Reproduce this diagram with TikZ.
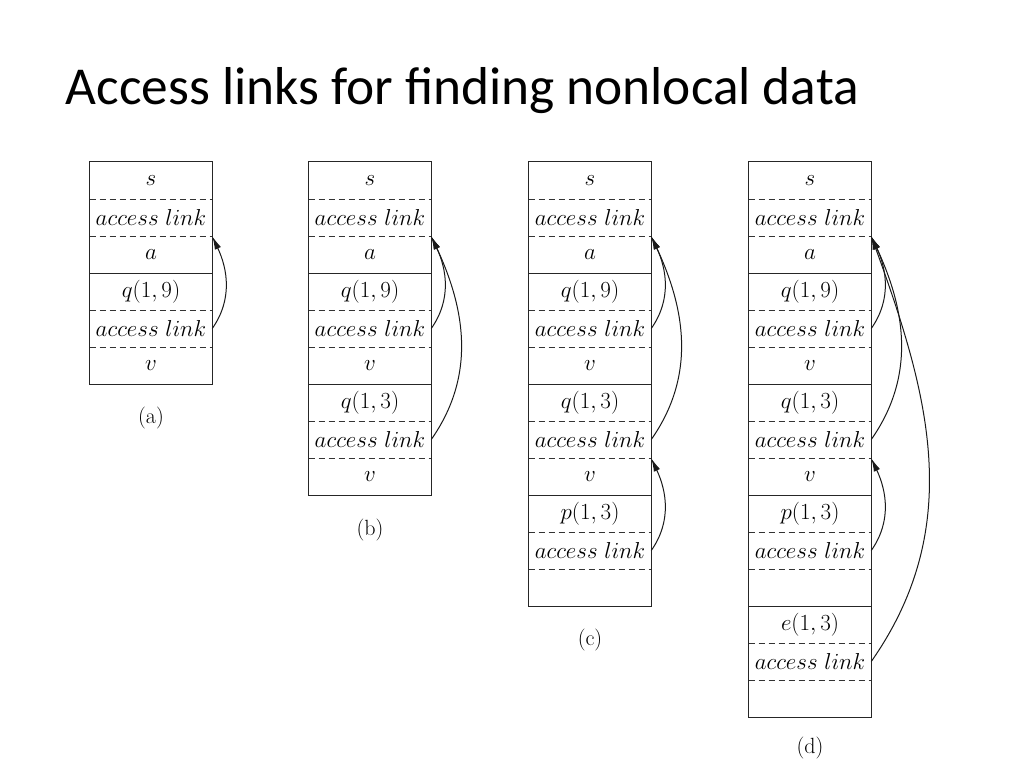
\documentclass[tikz,border=0pt]{standalone}
\usepackage{fontspec}
\newfontfamily\titlefont{Carlito}
\usetikzlibrary{arrows.meta}
\begin{document}
\begin{tikzpicture}[x=0.75pt,y=-0.75pt,
  cell/.style={inner sep=0pt,minimum width=91.5pt,minimum height=27.75pt,text=black,font=\fontsize{16.5}{18}\selectfont},
  frame/.style={draw=black!85,line width=0.9pt},
  sep/.style={draw=black!80,line width=0.9pt,dash pattern=on 4.5pt off 3pt},
  captext/.style={font=\fontsize{16.5}{18}\selectfont,text=black},
  link/.style={draw=black!90,line width=0.75pt,-{Latex[length=10pt,width=5pt]}}]
\useasboundingbox (0,0) rectangle (1024,768);
\node[anchor=base west,font=\titlefont\fontsize{40}{48}\selectfont,text=black] (title) at (61,104) {Access links for finding nonlocal data};
% stacks
\foreach \t [count=\i] in {{$s$},{$access\ link$},{$a$},{$q(1,9)$},{$access\ link$},{$v$}}
  \node[cell] (a\i) at (151,{162+37*(\i-0.5)}) {\t};
\foreach \t [count=\i] in {{$s$},{$access\ link$},{$a$},{$q(1,9)$},{$access\ link$},{$v$},{$q(1,3)$},{$access\ link$},{$v$}}
  \node[cell] (b\i) at (370,{162+37*(\i-0.5)}) {\t};
\foreach \t [count=\i] in {{$s$},{$access\ link$},{$a$},{$q(1,9)$},{$access\ link$},{$v$},{$q(1,3)$},{$access\ link$},{$v$},{$p(1,3)$},{$access\ link$},{}}
  \node[cell] (c\i) at (590,{162+37*(\i-0.5)}) {\t};
\foreach \t [count=\i] in {{$s$},{$access\ link$},{$a$},{$q(1,9)$},{$access\ link$},{$v$},{$q(1,3)$},{$access\ link$},{$v$},{$p(1,3)$},{$access\ link$},{},{$e(1,3)$},{$access\ link$},{}}
  \node[cell] (d\i) at (810,{162+37*(\i-0.5)}) {\t};
% frames
\draw[frame] (a1.north west) rectangle (a6.south east);
\draw[frame] (b1.north west) rectangle (b9.south east);
\draw[frame] (c1.north west) rectangle (c12.south east);
\draw[frame] (d1.north west) rectangle (d15.south east);
% separators
\foreach \s/\n in {a/6,b/9,c/12,d/15}{
  \foreach \i in {1,2,4,5,7,8,10,11,13,14}{
    \ifnum\i<\n \draw[sep] (\s\i.south west) -- (\s\i.south east);\fi
  }
  \foreach \i in {3,6,9,12}{
    \ifnum\i<\n \draw[frame] (\s\i.south west) -- (\s\i.south east);\fi
  }
}
% captions
\node[captext] (la) at (151,418) {(a)};
\node[captext] (lb) at (370,530) {(b)};
\node[captext] (lc) at (590,640) {(c)};
\node[captext] (ld) at (810,748) {(d)};
% links
\draw[link] (a5.east) to[out=55,in=-65] (a2.south east);
\draw[link] (b5.east) to[out=55,in=-65] (b2.south east);
\draw[link] (b8.east) to[out=55,in=-65] (b2.south east);
\draw[link] (c5.east) to[out=55,in=-65] (c2.south east);
\draw[link] (c8.east) to[out=55,in=-65] (c2.south east);
\draw[link] (c11.east) to[out=55,in=-65] (c8.south east);
\draw[link] (d5.east) to[out=55,in=-65] (d2.south east);
\draw[link] (d8.east) to[out=55,in=-65] (d2.south east);
\draw[link] (d11.east) to[out=55,in=-65] (d8.south east);
\draw[link] (d14.east) to[out=55,in=-70] (d2.south east);
\end{tikzpicture}
\end{document}
